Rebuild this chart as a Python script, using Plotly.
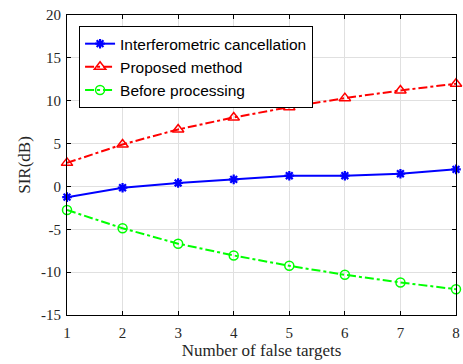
import plotly.graph_objects as go

x_vals = [1, 2, 3, 4, 5, 6, 7, 8]
interferometric = [-1.25, -0.15, 0.4, 0.82, 1.25, 1.25, 1.48, 1.99]
proposed = [2.75, 4.9, 6.65, 8.05, 9.25, 10.3, 11.2, 11.98]
before = [-2.75, -4.88, -6.68, -8.05, -9.26, -10.31, -11.2, -11.99]
y_ticks = [-15, -10, -5, 0, 5, 10, 15, 20]
y_tick_labels = ["-15", "-10", "-5", "0", "5", "10", "15", "20"]
x_tick_labels = ["1", "2", "3", "4", "5", "6", "7", "8"]

fig = go.Figure()
fig.add_trace(go.Scatter(x=x_vals, y=interferometric, name="Interferometric cancellation",
                         mode="lines+markers", cliponaxis=False,
                         line=dict(color="#0000FF", width=2, dash="solid"),
                         marker=dict(symbol="asterisk-open", size=8, color="#0000FF",
                                     line=dict(color="#0000FF", width=2.2))))
fig.add_trace(go.Scatter(x=x_vals, y=proposed, name="Proposed method",
                         mode="lines+markers", cliponaxis=False,
                         line=dict(color="#FF0000", width=2, dash="dashdot"),
                         marker=dict(symbol="triangle-up-open", size=10, color="#FF0000",
                                     line=dict(color="#FF0000", width=1.5))))
fig.add_trace(go.Scatter(x=x_vals, y=before, name="Before processing",
                         mode="lines+markers", cliponaxis=False,
                         line=dict(color="#00FF00", width=2, dash="dashdot"),
                         marker=dict(symbol="circle-open", size=9, color="#00FF00",
                                     line=dict(color="#00FF00", width=1.5))))

axis_common = dict(showline=True, linecolor="black", linewidth=1, mirror="ticks",
                   ticks="inside", ticklen=4, tickcolor="black", automargin=False,
                   ticklabeloverflow="allow",
                   showgrid=True, gridcolor="#E0E0E0", gridwidth=1, zeroline=False,
                   tickfont=dict(family="Liberation Serif", size=15, color="#262626"))

fig.update_layout(
    width=463, height=364,
    margin=dict(l=67, r=7, t=15, b=49, autoexpand=False),
    plot_bgcolor="white", paper_bgcolor="white",
    xaxis=dict(range=[1, 8], tickvals=x_vals, ticktext=x_tick_labels, ticklabelstandoff=4,
               title=dict(text="Number of false targets",
                          font=dict(family="Liberation Serif", size=17, color="#262626"), standoff=2),
               **axis_common),
    yaxis=dict(range=[-15, 20], tickvals=y_ticks, ticktext=y_tick_labels, ticklabelstandoff=2,
               title=dict(text="SIR(dB)", font=dict(family="Liberation Serif", size=17, color="#262626"),
                          standoff=6),
               **axis_common),
    legend=dict(x=0.031, y=0.963, xanchor="left", yanchor="top",
                bgcolor="white", bordercolor="black", borderwidth=1,
                font=dict(family="Liberation Sans", size=15.5, color="black"),
                itemwidth=30, tracegroupgap=0),
    showlegend=True,
)

fig.write_html("out.html", config={"displayModeBar": False},
               post_script="document.body.style.margin='0';document.body.style.padding='0';")
